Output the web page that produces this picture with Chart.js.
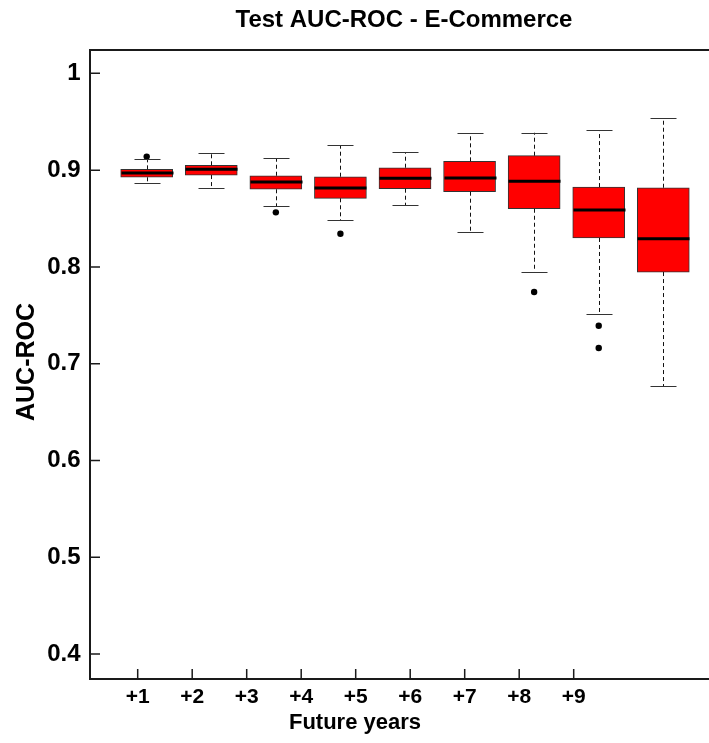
<!DOCTYPE html>
<html>
<head>
<meta charset="utf-8">
<title>Test AUC-ROC - E-Commerce</title>
<script src="https://cdn.jsdelivr.net/npm/chart.js@4.4.1/dist/chart.umd.min.js"></script>
<style>
  html, body { margin: 0; padding: 0; background: #ffffff; }
  canvas { display: block; }
</style>
</head>
<body>
<canvas id="chart" width="709" height="743"></canvas>
<script>
// Boxplot summary per horizon (AUC-ROC on the test set)
const categories   = ["+1", "+2", "+3", "+4", "+5", "+6", "+7", "+8", "+9"];
const whiskerLow   = [0.887, 0.8815, 0.8626, 0.8481, 0.8636, 0.8364, 0.795, 0.7513, 0.6767];
const lowerQuart   = [0.8926, 0.8949, 0.8802, 0.8709, 0.8808, 0.8777, 0.8601, 0.8299, 0.7947];
const medians      = [0.897, 0.9008, 0.8877, 0.8815, 0.8915, 0.8918, 0.8884, 0.8588, 0.8291];
const upperQuart   = [0.9008, 0.905, 0.8942, 0.8932, 0.9025, 0.9091, 0.9149, 0.8825, 0.8818];
const whiskerHigh  = [0.9113, 0.9174, 0.9122, 0.9256, 0.9187, 0.938, 0.9386, 0.9414, 0.9541];
const outlierGroup = [1, 3, 4, 7, 8, 8];
const outlierValue = [0.914, 0.8564, 0.8343, 0.7741, 0.7393, 0.7162];
const yTickValues  = [0.4, 0.5, 0.6, 0.7, 0.8, 0.9, 1];
const yTickLabels  = ["0.4", "0.5", "0.6", "0.7", "0.8", "0.9", "1"];

const FONT = "'Liberation Sans', Arial, Helvetica, sans-serif";
Chart.defaults.font.family = FONT;
Chart.defaults.color = "#000";

const boxData = categories.map((c, i) => ({ x: i + 1, y: [lowerQuart[i], upperQuart[i]] }));
const outlierData = outlierGroup.map((g, i) => ({ x: g, y: outlierValue[i] }));

// whiskers, staples and medians drawn on top of the boxes
const boxDetails = {
  id: "boxDetails",
  afterDatasetsDraw(chart) {
    const ctx = chart.ctx;
    const xs = chart.scales.x, ys = chart.scales.y;
    const half = 26, staple = 13;
    ctx.save();
    categories.forEach((c, i) => {
      const cx = Math.round(xs.getPixelForValue(i + 1)) + 0.5;
      const yHi = ys.getPixelForValue(whiskerHigh[i]);
      const yQ3 = ys.getPixelForValue(upperQuart[i]);
      const yQ1 = ys.getPixelForValue(lowerQuart[i]);
      const yLo = ys.getPixelForValue(whiskerLow[i]);
      const yMed = ys.getPixelForValue(medians[i]);
      // dashed whiskers
      ctx.strokeStyle = "#111";
      ctx.lineWidth = 1;
      ctx.setLineDash([4, 3]);
      ctx.beginPath();
      ctx.moveTo(cx, yQ3); ctx.lineTo(cx, yHi);
      ctx.moveTo(cx, yQ1); ctx.lineTo(cx, yLo);
      ctx.stroke();
      // staples
      ctx.setLineDash([]);
      ctx.strokeStyle = "#333";
      ctx.beginPath();
      ctx.moveTo(cx - staple, Math.round(yHi) + 0.5); ctx.lineTo(cx + staple, Math.round(yHi) + 0.5);
      ctx.moveTo(cx - staple, Math.round(yLo) + 0.5); ctx.lineTo(cx + staple, Math.round(yLo) + 0.5);
      ctx.stroke();
      // median
      ctx.strokeStyle = "#000";
      ctx.lineWidth = 3;
      ctx.beginPath();
      ctx.moveTo(cx - half, yMed); ctx.lineTo(cx + half, yMed);
      ctx.stroke();
    });
    ctx.restore();
  }
};

// frame, inward tick marks and titles
const frameAndTitles = {
  id: "frameAndTitles",
  afterDraw(chart) {
    const ctx = chart.ctx;
    const a = chart.chartArea;
    const ys = chart.scales.y, xt = chart.scales.xt;
    const right = chart.width;
    ctx.save();
    ctx.strokeStyle = "#1a1a1a";
    ctx.lineWidth = 2;
    ctx.beginPath();
    ctx.moveTo(right, a.top); ctx.lineTo(a.left, a.top);
    ctx.lineTo(a.left, a.bottom); ctx.lineTo(right, a.bottom);
    ctx.stroke();
    ctx.lineWidth = 1.5;
    ctx.beginPath();
    yTickValues.forEach(v => {
      const py = ys.getPixelForValue(v);
      ctx.moveTo(a.left, py); ctx.lineTo(a.left + 10, py);
    });
    categories.forEach((c, i) => {
      const px = xt.getPixelForValue(i + 1);
      ctx.moveTo(px, a.bottom); ctx.lineTo(px, a.bottom - 10);
    });
    ctx.stroke();

    ctx.fillStyle = "#000";
    ctx.textAlign = "center";
    ctx.textBaseline = "middle";
    ctx.font = "bold 24px " + FONT;
    ctx.fillText("Test AUC-ROC - E-Commerce", 404, 20);
    ctx.font = "bold 22px " + FONT;
    ctx.fillText("Future years", 355, 723);
    ctx.translate(27, 362);
    ctx.rotate(-Math.PI / 2);
    ctx.font = "bold 25px " + FONT;
    ctx.fillText("AUC-ROC", 0, 0);
    ctx.restore();
  }
};

const noScalePadding = (s) => {
  s.paddingLeft = 0; s.paddingRight = 0; s.paddingTop = 0; s.paddingBottom = 0;
};

new Chart(document.getElementById("chart"), {
  type: "bar",
  data: {
    datasets: [
      {
        type: "bar",
        data: boxData,
        xAxisID: "x",
        yAxisID: "y",
        backgroundColor: "#ff0000",
        borderColor: "#333333",
        borderWidth: 1,
        borderSkipped: false,
        barThickness: 52,
        order: 2
      },
      {
        type: "scatter",
        data: outlierData,
        xAxisID: "x",
        yAxisID: "y",
        pointRadius: 3.2,
        pointBackgroundColor: "#000",
        pointBorderWidth: 0,
        order: 1
      }
    ]
  },
  options: {
    responsive: false,
    animation: false,
    events: [],
    layout: { autoPadding: false, padding: { top: 50, left: 0, right: 0, bottom: 0 } },
    plugins: { legend: { display: false }, tooltip: { enabled: false }, title: { display: false } },
    scales: {
      x: {
        type: "linear",
        display: false,
        offset: false,
        grid: { offset: false },
        min: 0.122,
        max: 9.7077,
        afterFit: noScalePadding
      },
      xt: {
        type: "linear",
        position: "bottom",
        offset: false,
        min: 0.1248,
        max: 11.4826,
        grid: { display: false, drawTicks: false, offset: false },
        border: { display: false },
        afterBuildTicks: (s) => { s.ticks = categories.map((c, i) => ({ value: i + 1 })); },
        afterFit: (s) => { s.height = 64; noScalePadding(s); },
        ticks: {
          autoSkip: false,
          maxRotation: 0,
          padding: 6,
          font: { size: 21, weight: "bold" },
          color: "#000",
          callback: (v, i) => categories[i]
        }
      },
      y: {
        type: "linear",
        position: "left",
        min: 0.3743,
        max: 1.0241,
        grid: { display: false, drawTicks: false },
        border: { display: false },
        afterBuildTicks: (s) => { s.ticks = yTickValues.map(v => ({ value: v })); },
        afterFit: (s) => { s.width = 90; noScalePadding(s); },
        ticks: {
          padding: 9.5,
          font: { size: 24, weight: "bold" },
          color: "#000",
          callback: (v, i) => yTickLabels[i]
        }
      }
    }
  },
  plugins: [boxDetails, frameAndTitles]
});
</script>
</body>
</html>
